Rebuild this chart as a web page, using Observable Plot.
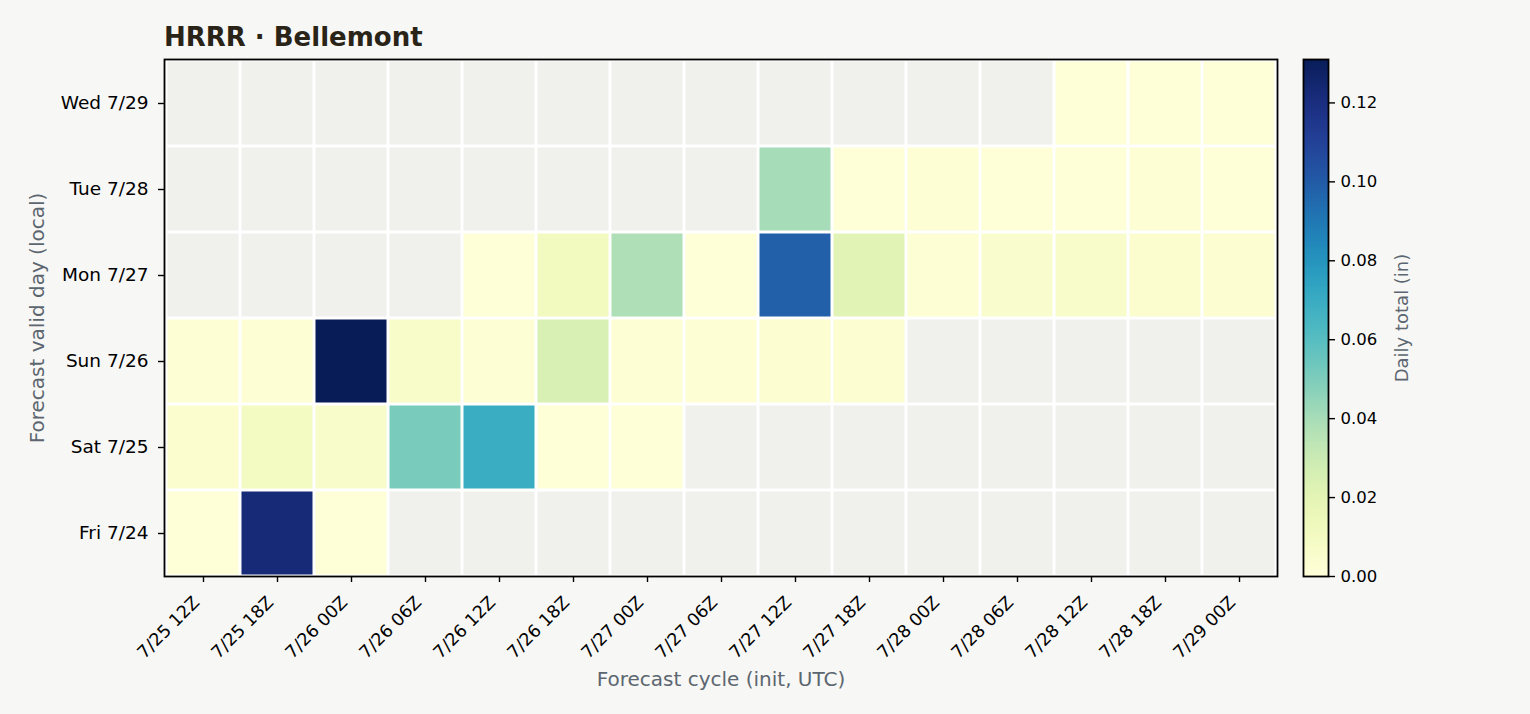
<!DOCTYPE html>
<html>
<head>
<meta charset="utf-8">
<script src="https://cdn.jsdelivr.net/npm/d3@7"></script>
<script src="https://cdn.jsdelivr.net/npm/@observablehq/plot@0.6"></script>
<style>
  html, body { margin: 0; padding: 0; background: #f7f7f5; }
  body { width: 1530px; height: 714px; overflow: hidden; position: relative; font-family: "DejaVu Sans", sans-serif; }
  #title { position: absolute; left: 164px; top: 22px; font: bold 26px "DejaVu Sans", sans-serif; color: #2a2418; white-space: nowrap; }
  #main { position: absolute; left: 0; top: 57px; }
  #cbar { position: absolute; left: 1277px; top: 57px; }
  svg { background: transparent !important; overflow: visible; }
</style>
</head>
<body>
<div id="title">HRRR · Bellemont</div>
<div id="main"></div>
<div id="cbar"></div>
<script>
// ---- data ----
const cycles = ["7/25 12Z","7/25 18Z","7/26 00Z","7/26 06Z","7/26 12Z","7/26 18Z","7/27 00Z","7/27 06Z","7/27 12Z","7/27 18Z","7/28 00Z","7/28 06Z","7/28 12Z","7/28 18Z","7/29 00Z"];
const days = ["Wed 7/29","Tue 7/28","Mon 7/27","Sun 7/26","Sat 7/25","Fri 7/24"];
const wed = [null,null,null,null,null,null,null,null,null,null,null,null,0.001,0.001,0.001];
const tue = [null,null,null,null,null,null,null,null,0.040,0.001,0.002,0.001,0.001,0.002,0.001];
const mon = [null,null,null,null,0.001,0.011,0.038,0.001,0.098,0.021,0.002,0.005,0.006,0.004,0.003];
const sun = [0.002,0.002,0.131,0.007,0.002,0.025,0.002,0.002,0.003,0.003,null,null,null,null,null];
const sat = [0.004,0.010,0.006,0.051,0.069,0.001,0.001,null,null,null,null,null,null,null,null];
const fri = [0.001,0.122,0.001,null,null,null,null,null,null,null,null,null,null,null,null];
const rows = [wed, tue, mon, sun, sat, fri];
const colorMax = 0.131;
const cbarTicks = [0, 0.02, 0.04, 0.06, 0.08, 0.10, 0.12];
const xLabel = "Forecast cycle (init, UTC)";
const yLabel = "Forecast valid day (local)";
const cLabel = "Daily total (in)";

// ---- table ----
const table = [];
rows.forEach((r, i) => r.forEach((v, j) => table.push({day: days[i], cycle: cycles[j], value: v})));
const present = table.filter(d => d.value != null);
const missing = table.filter(d => d.value == null);

const FONT = "DejaVu Sans, sans-serif";
const labelColor = "#5c6670";
const colorScale = {type: "linear", scheme: "YlGnBu", domain: [0, colorMax]};

const main = Plot.plot({
  width: 1530,
  height: 657,
  marginLeft: 164,
  marginRight: 253,
  marginTop: 2,
  marginBottom: 138,
  style: {fontFamily: FONT, background: "transparent", color: "black"},
  x: {type: "band", domain: cycles, padding: 0, label: null},
  y: {type: "band", domain: days, padding: 0, label: null},
  color: colorScale,
  marks: [
    Plot.frame({fill: "white", stroke: "none"}),
    Plot.cell(missing, {x: "cycle", y: "day", fill: "#f0f0ec", inset: 1.5}),
    Plot.cell(present, {x: "cycle", y: "day", fill: "value", inset: 1.5}),
    Plot.frame({stroke: "black", strokeWidth: 1.8}),
    // tick marks
    Plot.axisX({tickSize: 6, tickFormat: () => "", label: null, stroke: "black", strokeWidth: 1.4}),
    // rotated tick labels
    Plot.axisX({tickRotate: -45, tickSize: 0, tickPadding: 23, dx: -7, fontSize: 17.5, label: null}),
    Plot.axisY({tickSize: 6, tickPadding: 10, fontSize: 18.5, label: null, stroke: "black", strokeWidth: 1.4}),
    Plot.text([xLabel], {frameAnchor: "bottom", dy: 109, fontSize: 20, fill: labelColor, lineAnchor: "bottom"}),
    Plot.text([yLabel], {frameAnchor: "left", dx: -127, rotate: -90, textAnchor: "middle", fontSize: 20, fill: labelColor})
  ]
});
document.getElementById("main").appendChild(main);

// colour bar ramp (steps across the colour domain)
const steps = d3.range(0, 256).map(i => ({lo: colorMax * i / 256, hi: colorMax * (i + 1) / 256}));
const cbar = Plot.plot({
  width: 253,
  height: 657,
  marginLeft: 26,
  marginRight: 202,
  marginTop: 2,
  marginBottom: 138,
  style: {fontFamily: FONT, background: "transparent", color: "black"},
  x: {domain: [0, 1], axis: null},
  y: {domain: [0, colorMax], label: null},
  color: colorScale,
  marks: [
    Plot.rect(steps, {x1: 0, x2: 1, y1: "lo", y2: "hi", fill: d => (d.lo + d.hi) / 2, shapeRendering: "crispEdges", inset: 0, insetTop: -0.5}),
    Plot.frame({stroke: "black", strokeWidth: 1.8}),
    Plot.axisY({anchor: "right", ticks: cbarTicks, tickFormat: d3.format(".2f"), tickSize: 6, tickPadding: 6, fontSize: 16.5, label: null, stroke: "black", strokeWidth: 1.4}),
    Plot.text([cLabel], {frameAnchor: "right", dx: 74, rotate: -90, textAnchor: "middle", fontSize: 18, fill: labelColor})
  ]
});
document.getElementById("cbar").appendChild(cbar);
</script>
</body>
</html>
